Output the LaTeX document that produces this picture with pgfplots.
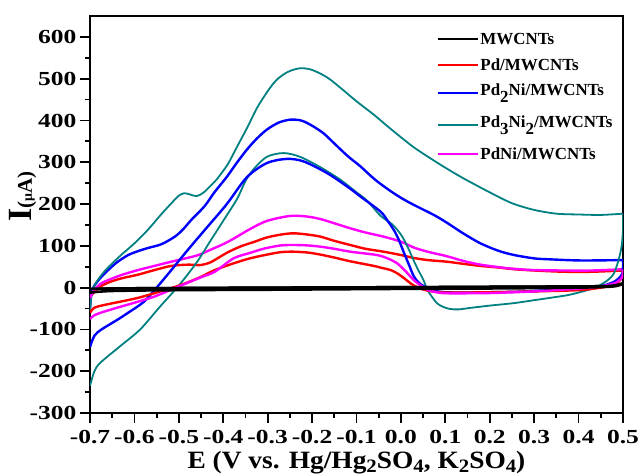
\documentclass[border=0pt]{standalone}
\usepackage{pgfplots}
\pgfplotsset{compat=1.18}
\usepackage{pgfplotstable}
\usepackage{fontspec}
\setmainfont{Liberation Serif}
\newfontfamily\tickfont{Liberation Serif}[FakeStretch=1.28]
\newfontfamily\labfont{Liberation Serif}[FakeStretch=1.1]
\definecolor{cteal}{RGB}{0,128,128}
\definecolor{cmag}{RGB}{255,0,255}
\newcommand{\lsub}[1]{\raisebox{-6.5bp}{#1}}
\newcommand{\xsub}[1]{\raisebox{-3.5bp}{\fontsize{19}{19}\selectfont #1}}

\pgfplotstableread{
x y
-0.700 -3
-0.650 -2
-0.500 -1
-0.300 0
0.000 1
0.200 2
0.400 3
0.470 4
0.500 10
}\blackF
\pgfplotstableread{
x y
0.500 10
0.480 3
0.400 0
0.200 -2
0.000 -3
-0.300 -5
-0.500 -6
-0.650 -8
-0.700 -12
}\blackR

\pgfplotstableread{
x y
-0.700 -22
-0.680 0
-0.659 12
-0.630 22
-0.592 31
-0.555 42
-0.517 52
-0.479 55
-0.452 54
-0.430 60
-0.410 72
-0.389 85
-0.360 99
-0.329 110
-0.302 120
-0.270 127
-0.242 130
-0.210 127
-0.181 122
-0.150 112
-0.114 102
-0.080 93
-0.039 86
0.000 78
0.029 71
0.060 66
0.104 62
0.140 57
0.179 52
0.220 48
0.255 44
0.300 41
0.367 38
0.430 38
0.500 41
}\redF
\pgfplotstableread{
x y
0.500 41
0.499 26
0.490 14
0.480 7
0.450 0
0.400 -6
0.300 -9
0.200 -11
0.104 -12
0.070 -9
0.052 -5
0.035 2
0.022 10
0.008 22
-0.008 34
-0.023 42
-0.046 48
-0.061 52
-0.114 63
-0.150 72
-0.181 79
-0.210 84
-0.242 86
-0.270 85
-0.302 79
-0.340 70
-0.377 58
-0.419 42
-0.452 25
-0.494 7
-0.554 -13
-0.590 -24
-0.629 -33
-0.670 -42
-0.690 -48
-0.700 -60
}\redR

\pgfplotstableread{
x y
-0.700 -50
-0.697 -14
-0.690 5
-0.675 25
-0.659 42
-0.640 60
-0.614 78
-0.590 88
-0.569 95
-0.539 104
-0.509 122
-0.490 140
-0.472 162
-0.442 195
-0.420 228
-0.392 265
-0.370 298
-0.347 330
-0.325 356
-0.302 378
-0.275 395
-0.249 402
-0.225 400
-0.204 390
-0.175 370
-0.151 346
-0.120 315
-0.091 290
-0.060 260
-0.030 236
0.000 215
0.029 198
0.074 174
0.104 155
0.140 130
0.179 106
0.220 88
0.255 78
0.300 70
0.330 68
0.405 65
0.500 66
}\blueF
\pgfplotstableread{
x y
0.500 66
0.499 35
0.490 22
0.480 14
0.460 6
0.442 2
0.400 -2
0.367 -4
0.300 -8
0.255 -10
0.200 -11
0.142 -12
0.100 -11
0.082 -9
0.065 -3
0.052 3
0.040 12
0.029 27
0.018 55
0.007 83
-0.005 115
-0.016 138
-0.030 160
-0.046 182
-0.091 218
-0.121 242
-0.166 274
-0.219 302
-0.257 308
-0.302 298
-0.347 264
-0.392 200
-0.440 140
-0.480 90
-0.520 38
-0.554 -5
-0.580 -35
-0.614 -60
-0.640 -78
-0.674 -100
-0.690 -115
-0.700 -142
}\blueR

\pgfplotstableread{
x y
-0.700 -60
-0.697 -20
-0.690 5
-0.680 22
-0.665 42
-0.650 58
-0.630 78
-0.600 106
-0.570 138
-0.540 175
-0.515 204
-0.500 220
-0.488 226
-0.475 223
-0.460 219
-0.445 227
-0.430 242
-0.414 260
-0.390 295
-0.370 335
-0.345 385
-0.324 430
-0.300 470
-0.280 497
-0.255 516
-0.227 525
-0.200 521
-0.166 503
-0.136 478
-0.100 446
-0.060 413
-0.030 386
0.000 360
0.030 335
0.070 307
0.100 287
0.140 262
0.200 228
0.250 202
0.300 186
0.350 177
0.400 175
0.450 174
0.500 177
}\tealF
\pgfplotstableread{
x y
0.500 177
0.500 140
0.497 100
0.490 66
0.480 35
0.470 22
0.458 12
0.440 2
0.420 -6
0.380 -17
0.345 -23
0.300 -30
0.255 -37
0.200 -43
0.160 -48
0.130 -52
0.110 -51
0.095 -46
0.082 -38
0.070 -22
0.060 -6
0.050 20
0.040 40
0.030 62
0.014 100
0.000 127
-0.020 152
-0.046 172
-0.076 208
-0.100 228
-0.136 258
-0.181 288
-0.227 313
-0.264 322
-0.302 313
-0.332 283
-0.350 255
-0.369 212
-0.400 160
-0.430 110
-0.460 60
-0.500 5
-0.542 -45
-0.587 -100
-0.632 -140
-0.677 -180
-0.690 -200
-0.700 -235
}\tealR

\pgfplotstableread{
x y
-0.700 -25
-0.690 -5
-0.675 10
-0.659 18
-0.630 30
-0.592 42
-0.555 52
-0.517 62
-0.485 70
-0.456 78
-0.430 90
-0.400 104
-0.377 117
-0.340 140
-0.306 158
-0.270 168
-0.242 172
-0.210 170
-0.181 164
-0.150 154
-0.114 142
-0.080 132
-0.039 122
0.000 110
0.029 96
0.060 86
0.104 75
0.140 64
0.179 55
0.220 49
0.255 45
0.300 42
0.367 41
0.430 41
0.500 44
}\magF
\pgfplotstableread{
x y
0.500 44
0.499 26
0.490 16
0.480 10
0.450 3
0.405 -2
0.300 -9
0.255 -11
0.200 -13
0.104 -13.5
0.075 -10
0.059 -5
0.045 5
0.029 18
0.010 40
-0.008 58
-0.016 63
-0.030 70
-0.054 78
-0.114 86
-0.150 93
-0.181 98
-0.210 101
-0.242 102
-0.270 101
-0.306 94
-0.340 83
-0.377 70
-0.419 38
-0.452 24
-0.502 2
-0.554 -21
-0.590 -33
-0.629 -45
-0.670 -58
-0.690 -66
-0.700 -75
}\magR

\begin{document}
\begin{tikzpicture}
\path[use as bounding box] (-90bp,-62bp) rectangle (550bp,413bp);
\begin{axis}[
  at={(0,0)}, anchor=south west,
  scale only axis, width=533bp, height=397bp,
  xmin=-0.7, xmax=0.5, ymin=-300, ymax=650,
  xtick={-0.7,-0.6,-0.5,-0.4,-0.3,-0.2,-0.1,0,0.1,0.2,0.3,0.4,0.5},
  ytick={-300,-200,-100,0,100,200,300,400,500,600},
  minor x tick num=1, minor y tick num=1,
  tick align=outside, tick pos=left,
  major tick length=10bp, minor tick length=5bp,
  every tick/.style={line width=1.8bp, black},
  axis line style={line width=2.2bp},
  /pgf/number format/assume math mode=true,
  ticklabel style={font=\tickfont\bfseries\fontsize{20}{20}\selectfont},
  xticklabel style={yshift=-4bp, /pgf/number format/.cd, fixed, fixed zerofill, precision=1},
  yticklabel style={/pgf/number format/.cd, fixed, precision=0},
  xlabel={\labfont\bfseries\fontsize{25}{25}\selectfont E (V vs. Hg/Hg\xsub{2}SO\xsub{4}, K\xsub{2}SO\xsub{4})},
  xlabel style={at={(axis description cs:0.5,-0.14)}, anchor=base},
  ylabel={\bfseries{\fontsize{34}{34}\selectfont I}{\fontsize{21}{21}\selectfont(}{\fontsize{14}{14}\selectfont μ}{\fontsize{21}{21}\selectfont A)}},
  ylabel style={at={(axis description cs:-0.109,0.545)}, anchor=base},
  legend image code/.code={\draw[#1, line width=2bp] (0bp,0bp) -- (40bp,0bp);},
  legend style={draw=none, fill=none, at={(axis description cs:0.645,0.965)}, anchor=north west,
    font=\bfseries\fontsize{17}{17}\selectfont, row sep=10.5bp,
    nodes={inner sep=1.5bp, text depth=, text height=}},
  legend cell align=left,
]
\addplot[black, line width=2.6bp, smooth] table {\blackF};
\addlegendentry{MWCNTs}
\addplot[red, line width=2.4bp, smooth] table {\redF};
\addlegendentry{Pd/MWCNTs}
\addplot[blue, line width=2.4bp, smooth] table {\blueF};
\addlegendentry{Pd\lsub{2}Ni/MWCNTs}
\addplot[cteal, line width=1.8bp, smooth] table {\tealF};
\addlegendentry{Pd\lsub{3}Ni\lsub{2}/MWCNTs}
\addplot[cmag, line width=2.4bp, smooth] table {\magF};
\addlegendentry{PdNi/MWCNTs}
\addplot[cteal, line width=1.8bp, smooth, forget plot] table {\tealR};
\addplot[blue, line width=2.4bp, smooth, forget plot] table {\blueR};
\addplot[red, line width=2.4bp, smooth, forget plot] table {\redR};
\addplot[cmag, line width=2.4bp, smooth, forget plot] table {\magR};
\addplot[black, line width=2.6bp, smooth, forget plot] table {\blackF};
\addplot[black, line width=2.6bp, smooth, forget plot] table {\blackR};
\end{axis}
\end{tikzpicture}
\end{document}
